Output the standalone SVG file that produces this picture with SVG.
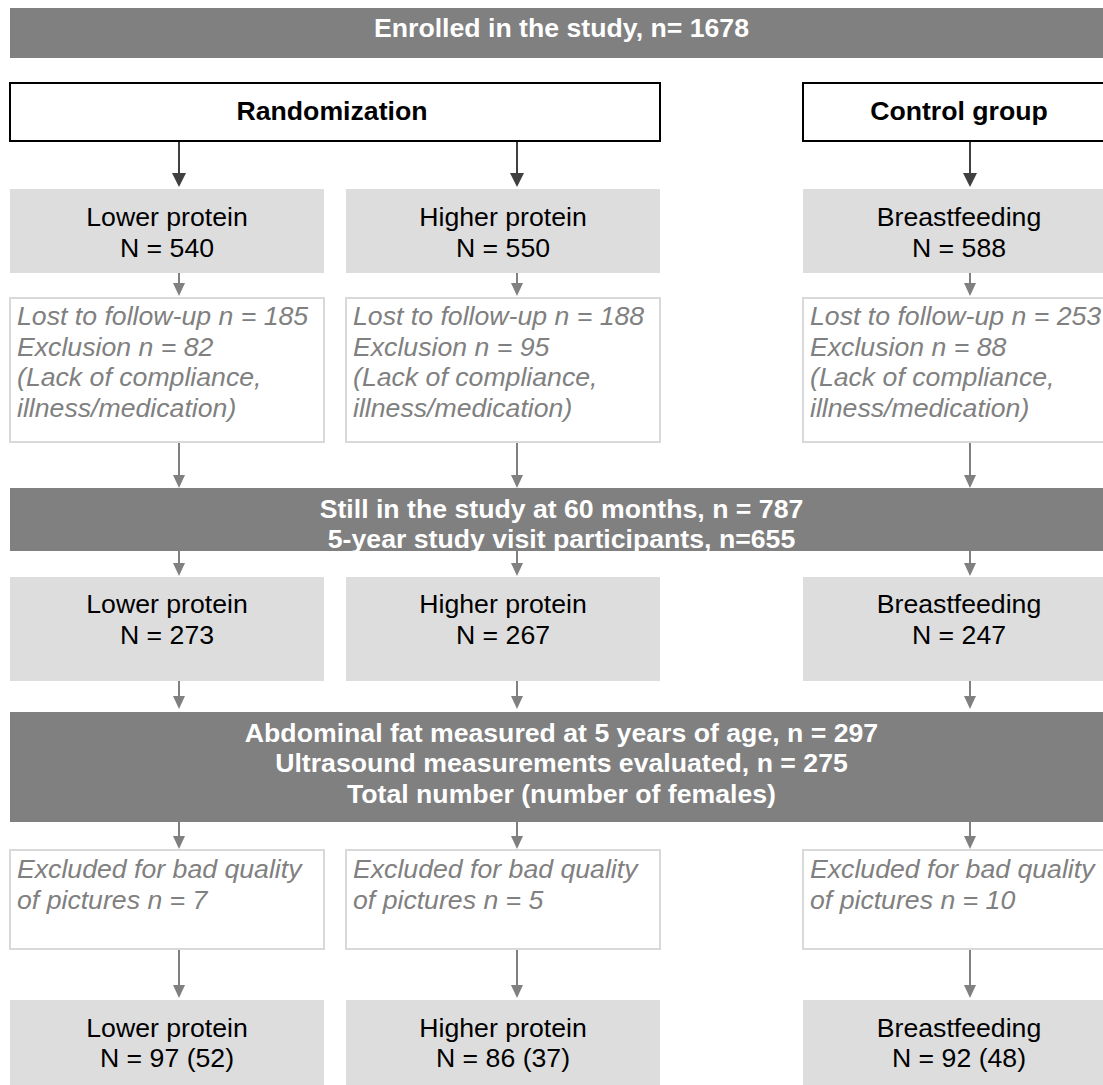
<svg xmlns="http://www.w3.org/2000/svg" width="1103" height="1085" viewBox="0 0 1103 1085">
<defs>
<style>
.banner{fill:#808080}
.t{font-family:"Liberation Sans",Arial,Helvetica,sans-serif;font-size:26.67px}
.btxt{font-weight:bold;fill:#ffffff;text-anchor:middle}
.hdr{fill:#ffffff;stroke:#000000;stroke-width:2}
.htxt{font-weight:bold;fill:#000000;text-anchor:middle}
.grp{fill:#dddddd}
.gtxt{fill:#000000;text-anchor:middle}
.exc{fill:#ffffff;stroke:#d9d9d9;stroke-width:2}
.etxt{font-style:italic;fill:#808080}
.dk{stroke:#404040;stroke-width:2;fill:none;marker-end:url(#ahd)}
.gr{stroke:#808080;stroke-width:2;fill:none;marker-end:url(#ahg)}
</style>
<marker id="ahd" markerUnits="userSpaceOnUse" viewBox="0 0 14 14" markerWidth="14" markerHeight="14" refX="8" refY="7" orient="auto"><path d="M0,0 L14,7 L0,14 z" fill="#404040"/></marker>
<marker id="ahg" markerUnits="userSpaceOnUse" viewBox="0 0 13 12" markerWidth="13" markerHeight="12" refX="7" refY="6" orient="auto"><path d="M0,0 L13,6 L0,12 z" fill="#808080"/></marker>
<clipPath id="clip2"><rect x="10" y="488" width="1103" height="63"/></clipPath>
</defs>

<g id="enrolled">
<rect class="banner" x="10" y="8" width="1103" height="50"/>
<text class="t btxt" x="561.5" y="37">Enrolled in the study, n= 1678</text>
</g>

<g id="randomization">
<rect class="hdr" x="10" y="83" width="650" height="58"/>
<text class="t htxt" x="332" y="120">Randomization</text>
</g>
<g id="control">
<rect class="hdr" x="803" y="83" width="314" height="58"/>
<text class="t htxt" x="959" y="120">Control group</text>
</g>

<g id="lower1">
<rect class="grp" x="10" y="189" width="314" height="84"/>
<text class="t gtxt" x="167" y="226">Lower protein</text>
<text class="t gtxt" x="167" y="256.7">N = 540</text>
</g>
<g id="higher1">
<rect class="grp" x="346" y="189" width="314" height="84"/>
<text class="t gtxt" x="503" y="226">Higher protein</text>
<text class="t gtxt" x="503" y="256.7">N = 550</text>
</g>
<g id="breast1">
<rect class="grp" x="803" y="189" width="314" height="84"/>
<text class="t gtxt" x="959" y="226">Breastfeeding</text>
<text class="t gtxt" x="959" y="256.7">N = 588</text>
</g>

<g id="lost1">
<rect class="exc" x="10" y="298" width="314" height="144"/>
<text class="t etxt" x="17" y="325">Lost to follow-up n = 185</text>
<text class="t etxt" x="17" y="355.7">Exclusion n = 82</text>
<text class="t etxt" x="17" y="386.4">(Lack of compliance,</text>
<text class="t etxt" x="17" y="417.1">illness/medication)</text>
</g>
<g id="lost2">
<rect class="exc" x="346" y="298" width="314" height="144"/>
<text class="t etxt" x="353" y="325">Lost to follow-up n = 188</text>
<text class="t etxt" x="353" y="355.7">Exclusion n = 95</text>
<text class="t etxt" x="353" y="386.4">(Lack of compliance,</text>
<text class="t etxt" x="353" y="417.1">illness/medication)</text>
</g>
<g id="lost3">
<rect class="exc" x="803" y="298" width="314" height="144"/>
<text class="t etxt" x="810" y="325">Lost to follow-up n = 253</text>
<text class="t etxt" x="810" y="355.7">Exclusion n = 88</text>
<text class="t etxt" x="810" y="386.4">(Lack of compliance,</text>
<text class="t etxt" x="810" y="417.1">illness/medication)</text>
</g>

<g id="still60">
<rect class="banner" x="10" y="488" width="1103" height="63"/>
<g clip-path="url(#clip2)">
<text class="t btxt" x="561.5" y="517.5">Still in the study at 60 months, n = 787</text>
<text class="t btxt" x="561.5" y="548.2">5-year study visit participants, n=655</text>
</g>
</g>

<g id="lower2">
<rect class="grp" x="10" y="577" width="314" height="104"/>
<text class="t gtxt" x="167" y="613">Lower protein</text>
<text class="t gtxt" x="167" y="643.7">N = 273</text>
</g>
<g id="higher2">
<rect class="grp" x="346" y="577" width="314" height="104"/>
<text class="t gtxt" x="503" y="613">Higher protein</text>
<text class="t gtxt" x="503" y="643.7">N = 267</text>
</g>
<g id="breast2">
<rect class="grp" x="803" y="577" width="314" height="104"/>
<text class="t gtxt" x="959" y="613">Breastfeeding</text>
<text class="t gtxt" x="959" y="643.7">N = 247</text>
</g>

<g id="abdominal">
<rect class="banner" x="10" y="712" width="1103" height="110"/>
<text class="t btxt" x="561.5" y="741.5">Abdominal fat measured at 5 years of age, n = 297</text>
<text class="t btxt" x="561.5" y="772.2">Ultrasound measurements evaluated, n = 275</text>
<text class="t btxt" x="561.5" y="802.9">Total number (number of females)</text>
</g>

<g id="excl1">
<rect class="exc" x="10" y="850" width="314" height="99"/>
<text class="t etxt" x="17" y="878">Excluded for bad quality</text>
<text class="t etxt" x="17" y="908.7">of pictures n = 7</text>
</g>
<g id="excl2">
<rect class="exc" x="346" y="850" width="314" height="99"/>
<text class="t etxt" x="353" y="878">Excluded for bad quality</text>
<text class="t etxt" x="353" y="908.7">of pictures n = 5</text>
</g>
<g id="excl3">
<rect class="exc" x="803" y="850" width="314" height="99"/>
<text class="t etxt" x="810" y="878">Excluded for bad quality</text>
<text class="t etxt" x="810" y="908.7">of pictures n = 10</text>
</g>

<g id="lower3">
<rect class="grp" x="10" y="1000" width="314" height="95"/>
<text class="t gtxt" x="167" y="1036.5">Lower protein</text>
<text class="t gtxt" x="167" y="1067.2">N = 97 (52)</text>
</g>
<g id="higher3">
<rect class="grp" x="346" y="1000" width="314" height="95"/>
<text class="t gtxt" x="503" y="1036.5">Higher protein</text>
<text class="t gtxt" x="503" y="1067.2">N = 86 (37)</text>
</g>
<g id="breast3">
<rect class="grp" x="803" y="1000" width="314" height="95"/>
<text class="t gtxt" x="959" y="1036.5">Breastfeeding</text>
<text class="t gtxt" x="959" y="1067.2">N = 92 (48)</text>
</g>

<g id="connectors">
<line class="dk" x1="179" y1="142" x2="179" y2="181"/>
<line class="dk" x1="517" y1="142" x2="517" y2="181"/>
<line class="dk" x1="970" y1="142" x2="970" y2="181"/>
<line class="gr" x1="179" y1="273" x2="179" y2="290"/>
<line class="gr" x1="517" y1="273" x2="517" y2="290"/>
<line class="gr" x1="970" y1="273" x2="970" y2="290"/>
<line class="gr" x1="179" y1="443" x2="179" y2="482"/>
<line class="gr" x1="517" y1="443" x2="517" y2="482"/>
<line class="gr" x1="970" y1="443" x2="970" y2="482"/>
<line class="gr" x1="179" y1="551" x2="179" y2="570"/>
<line class="gr" x1="517" y1="551" x2="517" y2="570"/>
<line class="gr" x1="970" y1="551" x2="970" y2="570"/>
<line class="gr" x1="179" y1="681" x2="179" y2="703"/>
<line class="gr" x1="517" y1="681" x2="517" y2="703"/>
<line class="gr" x1="970" y1="681" x2="970" y2="703"/>
<line class="gr" x1="179" y1="822" x2="179" y2="843"/>
<line class="gr" x1="517" y1="822" x2="517" y2="843"/>
<line class="gr" x1="970" y1="822" x2="970" y2="843"/>
<line class="gr" x1="179" y1="950" x2="179" y2="992"/>
<line class="gr" x1="517" y1="950" x2="517" y2="992"/>
<line class="gr" x1="970" y1="950" x2="970" y2="992"/>
</g>
</svg>
